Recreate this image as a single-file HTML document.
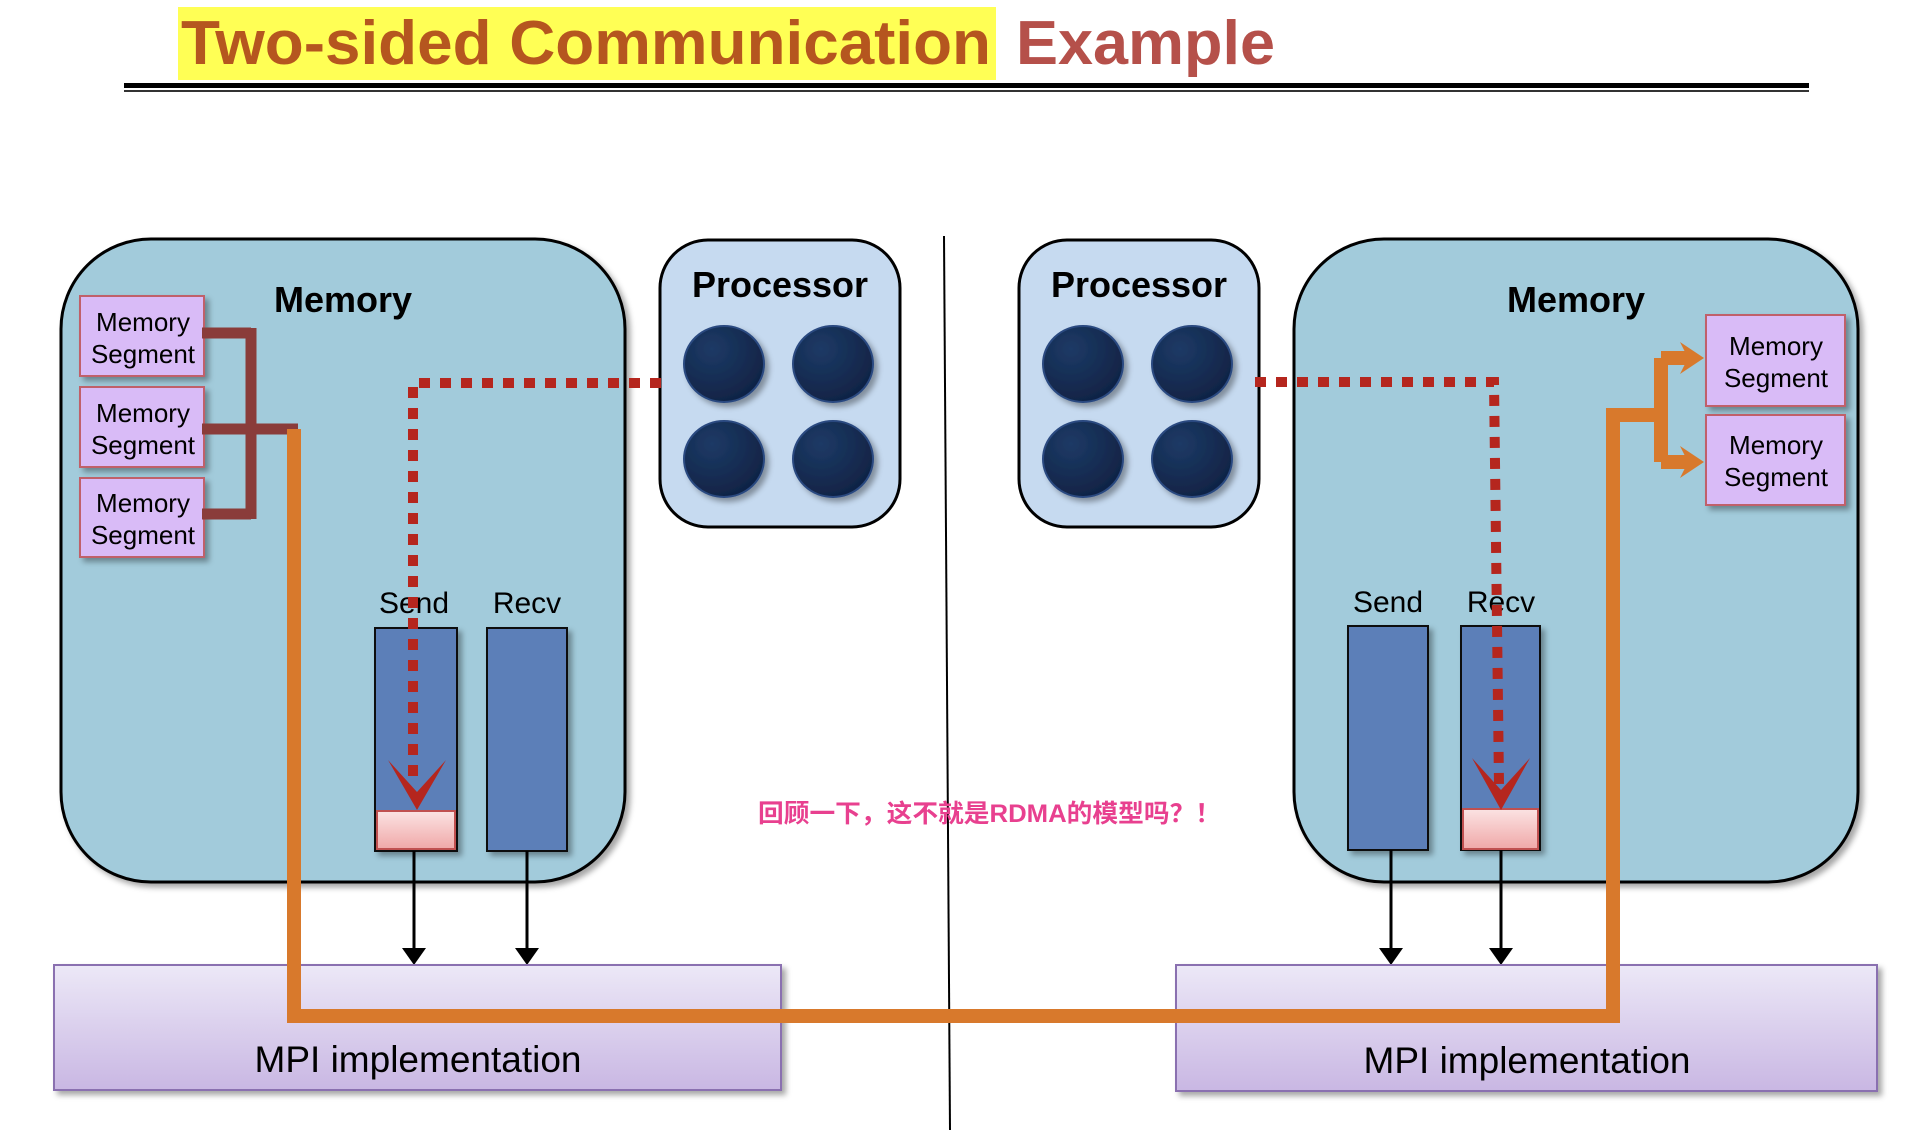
<!DOCTYPE html>
<html><head><meta charset="utf-8"><style>
html,body{margin:0;padding:0;background:#fff;}
svg{display:block}
</style></head><body>
<svg width="1920" height="1130" viewBox="0 0 1920 1130" xmlns="http://www.w3.org/2000/svg" font-family="Liberation Sans, sans-serif">
<defs>
<radialGradient id="cg" cx="0.35" cy="0.3" r="0.8"><stop offset="0" stop-color="#1d3a66"/><stop offset="1" stop-color="#0f2142"/></radialGradient>
<linearGradient id="mg" x1="0" y1="0" x2="0" y2="1"><stop offset="0" stop-color="#ece8f7"/><stop offset="1" stop-color="#c9b7e3"/></linearGradient>
<linearGradient id="pg" x1="0" y1="0" x2="0" y2="1"><stop offset="0" stop-color="#fbe3e3"/><stop offset="1" stop-color="#f0a8a8"/></linearGradient>
<filter id="sh" x="-10%" y="-10%" width="130%" height="130%"><feDropShadow dx="4" dy="4" stdDeviation="3" flood-color="#000" flood-opacity="0.35"/></filter>
</defs>
<!-- title -->
<rect x="178" y="7" width="818" height="73" fill="#ffff55"/>
<text x="181" y="64" font-size="62" font-weight="bold" fill="#b5561f" textLength="810" lengthAdjust="spacingAndGlyphs">Two-sided Communication</text>
<text x="1016" y="64" font-size="62" font-weight="bold" fill="#b5504a" textLength="259" lengthAdjust="spacingAndGlyphs">Example</text>
<rect x="124" y="83" width="1685" height="5" fill="#000"/>
<rect x="124" y="90" width="1685" height="2" fill="#333"/>
<!-- divider -->
<line x1="944" y1="236" x2="950" y2="1130" stroke="#000" stroke-width="2"/>
<!-- memory boxes -->
<rect x="61" y="239" width="564" height="643" rx="90" fill="#a2cbdb" stroke="#000" stroke-width="3" filter="url(#sh)"/>
<rect x="1294" y="239" width="564" height="643" rx="90" fill="#a2cbdb" stroke="#000" stroke-width="3" filter="url(#sh)"/>
<text x="343" y="312" font-size="36" font-weight="bold" text-anchor="middle">Memory</text>
<text x="1576" y="312" font-size="36" font-weight="bold" text-anchor="middle">Memory</text>
<!-- processors -->
<rect x="660" y="240" width="240" height="287" rx="48" fill="#c6daf0" stroke="#000" stroke-width="3"/>
<rect x="1019" y="240" width="240" height="287" rx="48" fill="#c6daf0" stroke="#000" stroke-width="3"/>
<text x="780" y="297" font-size="36" font-weight="bold" text-anchor="middle">Processor</text>
<text x="1139" y="297" font-size="36" font-weight="bold" text-anchor="middle">Processor</text>
<g fill="url(#cg)" stroke="#2a4a80" stroke-width="2" filter="url(#sh)">
<ellipse cx="724" cy="364" rx="40" ry="38"/><ellipse cx="833" cy="364" rx="40" ry="38"/>
<ellipse cx="724" cy="459" rx="40" ry="38"/><ellipse cx="833" cy="459" rx="40" ry="38"/>
<ellipse cx="1083" cy="364" rx="40" ry="38"/><ellipse cx="1192" cy="364" rx="40" ry="38"/>
<ellipse cx="1083" cy="459" rx="40" ry="38"/><ellipse cx="1192" cy="459" rx="40" ry="38"/>
</g>
<!-- memory segments -->
<g fill="#d9bbf7" stroke="#c0606a" stroke-width="2" filter="url(#sh)">
<rect x="80" y="296" width="124" height="80"/><rect x="80" y="387" width="124" height="80"/><rect x="80" y="478" width="124" height="79"/>
<rect x="1706" y="315" width="139" height="91"/><rect x="1706" y="415" width="139" height="90"/>
</g>
<g font-size="26" text-anchor="middle">
<text x="143" y="331">Memory</text><text x="143" y="363">Segment</text>
<text x="143" y="422">Memory</text><text x="143" y="454">Segment</text>
<text x="143" y="512">Memory</text><text x="143" y="544">Segment</text>
<text x="1776" y="355">Memory</text><text x="1776" y="387">Segment</text>
<text x="1776" y="454">Memory</text><text x="1776" y="486">Segment</text>
</g>
<!-- brown connectors -->
<g stroke="#8a3c3a" stroke-width="11" fill="none">
<path d="M202 333 H251 M202 514 H251 M251 328 V519 M202 429 H298"/>
</g>
<!-- send/recv -->
<g stroke="#111" stroke-width="2" filter="url(#sh)">
<rect x="375" y="628" width="82" height="223" fill="#5b7fb8"/>
<rect x="487" y="628" width="80" height="223" fill="#5b7fb8"/>
<rect x="1348" y="626" width="80" height="224" fill="#5b7fb8"/>
<rect x="1461" y="626" width="79" height="224" fill="#5b7fb8"/>
</g>
<rect x="377" y="811" width="78" height="38" fill="url(#pg)" stroke="#c05050" stroke-width="2"/>
<rect x="1463" y="809" width="75" height="40" fill="url(#pg)" stroke="#c05050" stroke-width="2"/>
<g font-size="30" text-anchor="middle">
<text x="414" y="613">Send</text><text x="527" y="613">Recv</text>
<text x="1388" y="612">Send</text><text x="1501" y="612">Recv</text>
</g>
<!-- black arrows -->
<g stroke="#000" stroke-width="3"><line x1="414" y1="851" x2="414" y2="950"/><line x1="527" y1="851" x2="527" y2="950"/><line x1="1391" y1="850" x2="1391" y2="950"/><line x1="1501" y1="850" x2="1501" y2="950"/></g>
<g fill="#000"><path d="M402 948 H426 L414 965Z"/><path d="M515 948 H539 L527 965Z"/><path d="M1379 948 H1403 L1391 965Z"/><path d="M1489 948 H1513 L1501 965Z"/></g>
<!-- MPI boxes -->
<rect x="54" y="965" width="727" height="125" fill="url(#mg)" stroke="#8a70b0" stroke-width="2" filter="url(#sh)"/>
<rect x="1176" y="965" width="701" height="126" fill="url(#mg)" stroke="#8a70b0" stroke-width="2" filter="url(#sh)"/>
<text x="418" y="1072" font-size="37" text-anchor="middle">MPI implementation</text>
<text x="1527" y="1073" font-size="37" text-anchor="middle">MPI implementation</text>
<!-- orange path -->
<g stroke="#d8792c" stroke-width="14" fill="none">
<path d="M294 429 V1016 H1613 V415 H1661"/>
<path d="M1661 358 V462 M1661 358 H1690 M1661 462 H1690"/>
</g>
<g fill="#d8792c"><path d="M1680 342 L1704 358 L1680 374 L1688 358Z"/><path d="M1680 446 L1704 462 L1680 478 L1688 462Z"/></g>
<!-- red dotted -->
<g stroke="#b5261e" stroke-width="10" fill="none" stroke-dasharray="11 10">
<path d="M661 383 H413 V785"/>
<path d="M1255 382 H1494 L1499 785"/>
</g>
<g fill="#b5261e"><path d="M388 760 L417 810 L446 760 L417 792Z"/><path d="M1472 758 L1501 810 L1530 758 L1501 790Z"/></g>
<text x="758" y="822" font-size="25" font-weight="bold" fill="#e8408f" font-family="Liberation Sans, Noto Sans CJK SC, sans-serif" textLength="463" lengthAdjust="spacingAndGlyphs">回顾一下，这不就是RDMA的模型吗？！</text>
</svg>
</body></html>
